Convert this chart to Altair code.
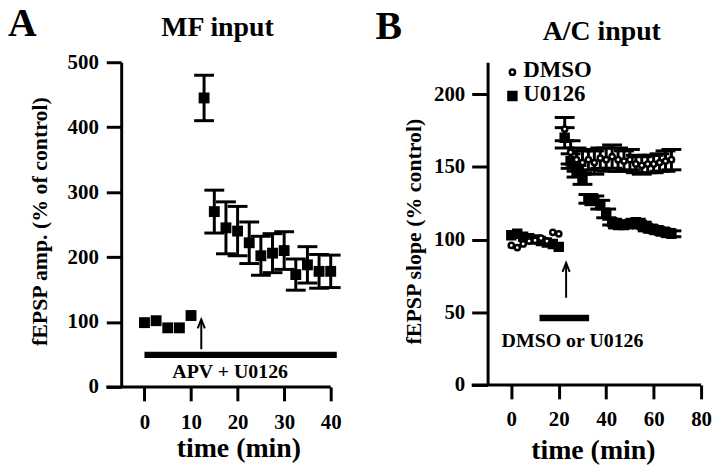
import altair as alt
import pandas as pd

FONT = "Liberation Serif"

# ---------------- Panel A : MF input ----------------
a_time = [0, 2.5, 5, 7.5, 10, 12.8, 15, 17.5, 20, 22.5, 25, 27.5, 30, 32.5, 35, 37.5, 40]
a_value = [99, 102, 91, 91, 110, 445, 270, 245, 240, 222, 202, 206, 210, 173, 188, 178, 178]
a_sem = [0, 0, 0, 0, 0, 35, 33, 40, 38, 32, 30, 30, 29, 24, 28, 26, 25]
a_xticks = [0, 10, 20, 30, 40]
a_yticks = [0, 100, 200, 300, 400, 500]
a_drug_bar = [0, 41.3, 49.4]          # start, end, level
a_arrow = [12.2, 58, 104]             # time, from, to
a_drug_label = ["APV + U0126", 18.4, 14.5]

# ---------------- Panel B : A/C input ----------------
b_time = [0, 2.5, 5, 7.5, 10, 12.5, 15, 17.5, 20,
          22.5, 25, 27.5, 30, 32.5, 35, 37.5, 40, 42.5, 45, 47.5, 50,
          52.5, 55, 57.5, 60, 62.5, 65, 67.5]
b_dmso = [96, 94.5, 97, 99, 99.5, 101, 99, 105, 104,
          176, 160, 155, 153, 155, 153, 156, 155, 157, 155, 154, 155,
          152, 151, 152, 152, 153, 154, 155]
b_dmso_sem = [0, 0, 0, 0, 0, 0, 0, 0, 0,
              8, 8, 8, 8, 7, 8, 7, 8, 8, 8, 7, 7,
              6, 6, 6, 6, 6, 7, 7]
b_u0126 = [103, 104, 102, 101, 100, 99, 98, 97, 95,
           170, 154, 147, 142, 128, 127, 124, 118, 112, 110, 110, 111,
           112, 110, 108, 107, 106, 105, 104]
b_u0126_sem = [0, 0, 0, 0, 0, 0, 0, 0, 0,
               7, 5, 4, 4, 3, 3, 3, 3, 2, 2, 2, 2,
               2, 2, 2, 2, 2, 2, 2]
b_series = ["DMSO", "U0126"]
b_xticks = [0, 20, 40, 60, 80]
b_yticks = [0, 50, 100, 150, 200]
b_drug_bar = [11.9, 32.8, 46]
b_arrow = [23.1, 60, 84]
b_drug_label = ["DMSO or U0126", 25.8, 26.2]
b_legend_sym_t = 0.46
b_legend_sym_v = [215.2, 198.8]
b_legend_lab_t = 5.07
b_legend_lab_v = [211.8, 195.4]

ARROW_HEAD = "M-0.8,2L0,0L0.8,2"


def text_layer(label, x, y, size, align="left"):
    return alt.Chart(pd.DataFrame({"label": [label]})).mark_text(
        font=FONT, fontSize=size, fontWeight="bold", color="black", align=align,
        baseline="alphabetic").encode(x=alt.value(x), y=alt.value(y), text="label:N")


# ================= Panel A =================
WA, HA = 211, 327
dfA = pd.DataFrame({"t": a_time, "v": a_value, "sem": a_sem})
dfA["lo"] = dfA["v"] - dfA["sem"]
dfA["hi"] = dfA["v"] + dfA["sem"]
dfA_err = dfA[dfA["sem"] > 0]

sxA = alt.Scale(domain=[-5, 40], nice=False, zero=False)
syA = alt.Scale(domain=[0, 500], nice=False)
axA_x = alt.Axis(values=a_xticks, tickSize=14, labelPadding=11, domain=False,
                 title="time (min)", titleFontSize=28, titleX=118, titleY=70,
                 titleBaseline="alphabetic", titleAlign="center")
axA_y = alt.Axis(values=a_yticks, tickSize=15, labelPadding=8,
                 title="fEPSP amp. (% of control)", titleFontSize=22, titleAngle=270,
                 titleX=-75, titleY=160, titleBaseline="alphabetic", titleAlign="center")


def XA(f):
    return alt.X(f, type="quantitative", scale=sxA, axis=axA_x)


def YA(f):
    return alt.Y(f, type="quantitative", scale=syA, axis=axA_y)


xlineA = alt.Chart(dfA.head(1)).mark_rule(color="black", strokeWidth=3).encode(
    x=alt.value(-15), x2=alt.value(WA), y=alt.value(HA))
errA = alt.Chart(dfA_err).mark_rule(color="black", strokeWidth=3).encode(
    x=XA("t"), y=YA("lo"), y2="hi")
capLoA = alt.Chart(dfA_err).mark_tick(orient="horizontal", size=20, thickness=3,
                                      color="black", opacity=1).encode(x=XA("t"), y=YA("lo"))
capHiA = alt.Chart(dfA_err).mark_tick(orient="horizontal", size=20, thickness=3,
                                      color="black", opacity=1).encode(x=XA("t"), y=YA("hi"))
ptsA = alt.Chart(dfA).mark_square(size=120, color="black", opacity=1).encode(x=XA("t"), y=YA("v"))
barA = alt.Chart(pd.DataFrame({"t0": [a_drug_bar[0]], "t1": [a_drug_bar[1]], "v": [a_drug_bar[2]]})
                 ).mark_rule(color="black", strokeWidth=6.5).encode(x=XA("t0"), x2="t1", y=YA("v"))
arrA_df = pd.DataFrame({"t": [a_arrow[0]], "v0": [a_arrow[1]], "v1": [a_arrow[2]]})
shaftA = alt.Chart(arrA_df).mark_rule(color="black", strokeWidth=2).encode(
    x=XA("t"), y=YA("v0"), y2="v1")
headA = alt.Chart(arrA_df).mark_point(shape=ARROW_HEAD, size=81, stroke="black", strokeWidth=2,
                                      filled=False, opacity=1).encode(x=XA("t"), y=YA("v1"))
txtA = alt.Chart(pd.DataFrame({"label": [a_drug_label[0]], "t": [a_drug_label[1]], "v": [a_drug_label[2]]})
                 ).mark_text(font=FONT, fontSize=20, fontWeight="bold", color="black",
                             align="center", baseline="alphabetic").encode(
    x=XA("t"), y=YA("v"), text="label:N")
labA = text_layer("A", -114, -26, 40)
titA = text_layer("MF input", 97, -26, 28, align="center")

panelA = alt.layer(xlineA, errA, capLoA, capHiA, ptsA, barA, shaftA, headA, txtA, labA, titA
                   ).properties(width=WA, height=HA)

# ================= Panel B =================
WB, HB = 215, 325
dfD = pd.DataFrame({"t": b_time, "v": b_dmso, "sem": b_dmso_sem})
dfU = pd.DataFrame({"t": b_time, "v": b_u0126, "sem": b_u0126_sem})
dfB_err = pd.concat([dfU, dfD])
dfB_err = dfB_err[dfB_err["sem"] > 0].copy()
dfB_err["lo"] = dfB_err["v"] - dfB_err["sem"]
dfB_err["hi"] = dfB_err["v"] + dfB_err["sem"]

sxB = alt.Scale(domain=[-10, 80], nice=False, zero=False)
syB = alt.Scale(domain=[0, 222], nice=False)
axB_x = alt.Axis(values=b_xticks, tickSize=14, labelPadding=10, domain=False,
                 title="time (min)", titleFontSize=28, titleX=106, titleY=74,
                 titleBaseline="alphabetic", titleAlign="center")
axB_y = alt.Axis(values=b_yticks, tickSize=16, labelPadding=7,
                 title="fEPSP slope (% control)", titleFontSize=22, titleAngle=270,
                 titleX=-68, titleY=170, titleBaseline="alphabetic", titleAlign="center")


def XB(f):
    return alt.X(f, type="quantitative", scale=sxB, axis=axB_x)


def YB(f):
    return alt.Y(f, type="quantitative", scale=syB, axis=axB_y)


xlineB = alt.Chart(dfD.head(1)).mark_rule(color="black", strokeWidth=3).encode(
    x=alt.value(-16), x2=alt.value(WB), y=alt.value(HB))
errB = alt.Chart(dfB_err).mark_rule(color="black", strokeWidth=3).encode(
    x=XB("t"), y=YB("lo"), y2="hi")
capLoB = alt.Chart(dfB_err).mark_tick(orient="horizontal", size=20, thickness=3,
                                      color="black", opacity=1).encode(x=XB("t"), y=YB("lo"))
capHiB = alt.Chart(dfB_err).mark_tick(orient="horizontal", size=20, thickness=3,
                                      color="black", opacity=1).encode(x=XB("t"), y=YB("hi"))


def square_marks(df):
    return alt.Chart(df).mark_point(shape="square", size=64, fill="black", fillOpacity=1,
                                    stroke="black", strokeWidth=2.5, opacity=1)


def circle_marks(df):
    return alt.Chart(df).mark_point(shape="circle", size=28, fill="white", fillOpacity=1,
                                    stroke="black", strokeWidth=2.5, opacity=1)


ptsU = square_marks(dfU).encode(x=XB("t"), y=YB("v"))
ptsD = circle_marks(dfD).encode(x=XB("t"), y=YB("v"))

legD = circle_marks(pd.DataFrame({"t": [b_legend_sym_t], "v": [b_legend_sym_v[0]]})).encode(
    x=XB("t"), y=YB("v"))
legU = square_marks(pd.DataFrame({"t": [b_legend_sym_t], "v": [b_legend_sym_v[1]]})).encode(
    x=XB("t"), y=YB("v"))
legTxt = alt.Chart(pd.DataFrame({"label": b_series, "t": [b_legend_lab_t, b_legend_lab_t],
                                 "v": b_legend_lab_v})).mark_text(
    font=FONT, fontSize=23, fontWeight="bold", color="black", align="left",
    baseline="alphabetic").encode(x=XB("t"), y=YB("v"), text="label:N")

barB = alt.Chart(pd.DataFrame({"t0": [b_drug_bar[0]], "t1": [b_drug_bar[1]], "v": [b_drug_bar[2]]})
                 ).mark_rule(color="black", strokeWidth=6.5).encode(x=XB("t0"), x2="t1", y=YB("v"))
arrB_df = pd.DataFrame({"t": [b_arrow[0]], "v0": [b_arrow[1]], "v1": [b_arrow[2]]})
shaftB = alt.Chart(arrB_df).mark_rule(color="black", strokeWidth=2).encode(
    x=XB("t"), y=YB("v0"), y2="v1")
headB = alt.Chart(arrB_df).mark_point(shape=ARROW_HEAD, size=81, stroke="black", strokeWidth=2,
                                      filled=False, opacity=1).encode(x=XB("t"), y=YB("v1"))
txtB = alt.Chart(pd.DataFrame({"label": [b_drug_label[0]], "t": [b_drug_label[1]], "v": [b_drug_label[2]]})
                 ).mark_text(font=FONT, fontSize=20, fontWeight="bold", color="black",
                             align="center", baseline="alphabetic").encode(
    x=XB("t"), y=YB("v"), text="label:N")
labB = text_layer("B", -113, -23, 40)
titB = text_layer("A/C input", 115, -22, 28, align="center")

panelB = alt.layer(xlineB, errB, capLoB, capHiB, ptsU, ptsD, legD, legU, legTxt,
                   barB, shaftB, headB, txtB, labB, titB).properties(width=WB, height=HB)

chart = alt.hconcat(panelA, panelB, spacing=158, bounds="flush",
                    padding={"left": 0, "top": -5, "right": 0, "bottom": 0}).configure_view(
    stroke=None
).configure_axis(
    domainColor="black", domainWidth=3, tickColor="black", tickWidth=3,
    labelFont=FONT, labelFontSize=21, labelFontWeight="bold", labelColor="black",
    titleFont=FONT, titleFontWeight="bold", titleColor="black",
    grid=False, labelFlush=False, labelOverlap=False,
)

chart.save("out.html", embed_options={"renderer": "svg", "actions": False})
